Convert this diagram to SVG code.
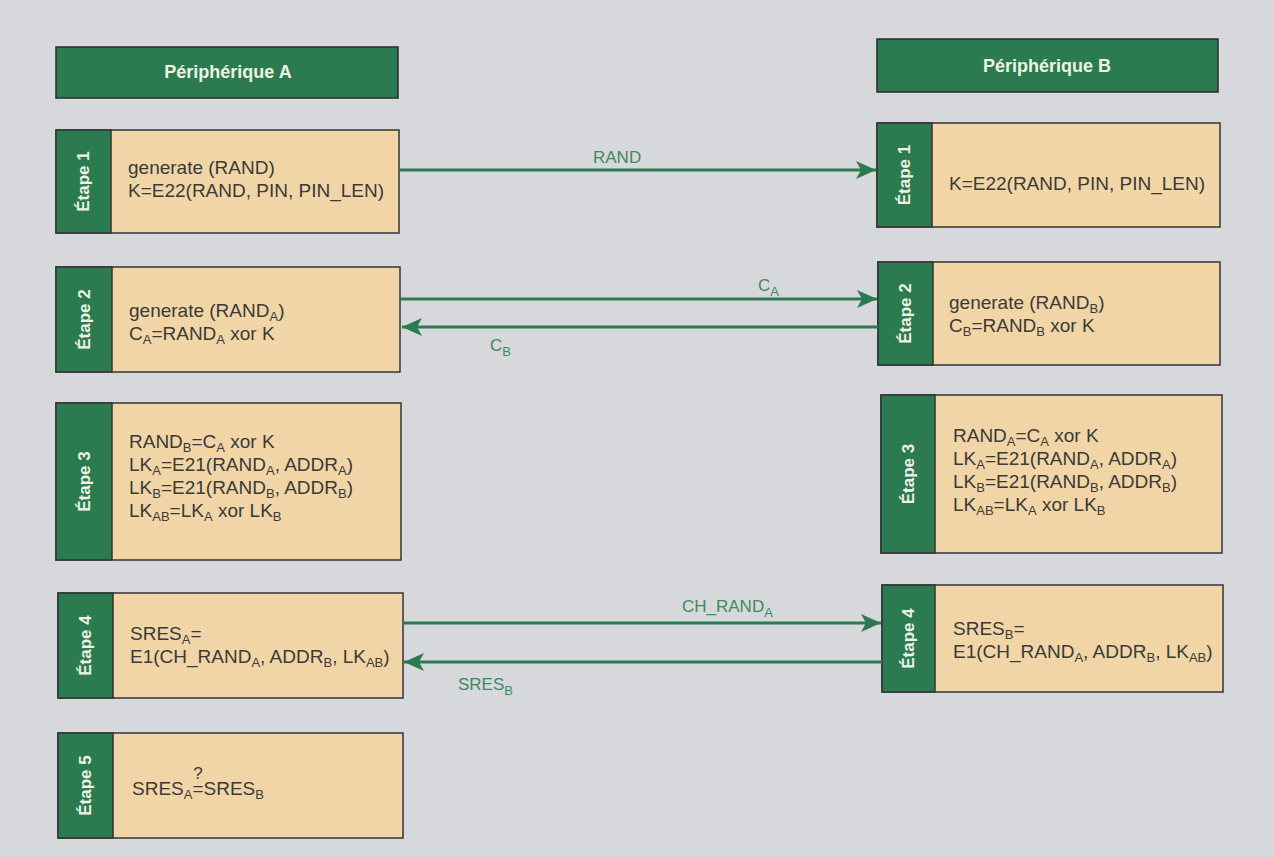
<svg xmlns="http://www.w3.org/2000/svg" width="1274" height="857" viewBox="0 0 1274 857">
  <defs>
    <style>
      .bg { fill: #d7d8dc; }
      .head { fill: #2c7a50; stroke: #2a2a2a; stroke-width: 1.5; }
      .head-t { font-family: "Liberation Sans", Arial, sans-serif; font-weight: bold; font-size: 18px; fill: #eef3e6; text-anchor: middle; }
      .body { fill: #f1d5a6; stroke: #333333; stroke-width: 1.5; }
      .tab { fill: #2c7a50; stroke: #333333; stroke-width: 1.5; }
      .tab-t { font-family: "Liberation Sans", Arial, sans-serif; font-weight: bold; font-size: 17px; fill: #eef3e6; text-anchor: middle; }
      .txt { font-family: "Liberation Sans", Arial, sans-serif; font-size: 19px; fill: #3a3a38; }
      .sub { font-size: 13px; }
      .wire { stroke: #2c7a50; stroke-width: 3; fill: none; marker-end: url(#head); }
      .lbl { font-family: "Liberation Sans", Arial, sans-serif; font-size: 17px; fill: #3d8a5e; }
    </style>
    <marker id="head" viewBox="0 0 20 18" refX="20" refY="9" markerWidth="20" markerHeight="18" markerUnits="userSpaceOnUse" orient="auto">
      <path d="M0,0 L20,9 L0,18 L5,9 z" fill="#2c7a50"/>
    </marker>
  </defs>

  <rect class="bg" x="0" y="0" width="1274" height="857"/>

  <!-- column headers -->
  <g id="header-a">
    <rect class="head" x="56" y="47" width="342" height="51"/>
    <text class="head-t" x="228" y="78">Périphérique A</text>
  </g>
  <g id="header-b">
    <rect class="head" x="877" y="39" width="341" height="53"/>
    <text class="head-t" x="1047" y="72">Périphérique B</text>
  </g>

  <!-- device A steps -->
  <g id="a-step1">
    <rect class="body" x="56" y="130" width="343" height="103"/>
    <rect class="tab" x="56" y="130" width="55" height="103"/>
    <text class="tab-t" transform="translate(89,181.5) rotate(-90)">Étape 1</text>
    <text class="txt" x="128" y="174">generate (RAND)</text>
    <text class="txt" x="128" y="197">K=E22(RAND, PIN, PIN_LEN)</text>
  </g>
  <g id="a-step2">
    <rect class="body" x="56" y="267" width="344" height="105"/>
    <rect class="tab" x="56" y="267" width="56" height="105"/>
    <text class="tab-t" transform="translate(90,319.5) rotate(-90)">Étape 2</text>
    <text class="txt" x="129" y="317">generate (RAND<tspan class="sub" dy="4">A</tspan><tspan dy="-4">)</tspan></text>
    <text class="txt" x="129" y="340">C<tspan class="sub" dy="4">A</tspan><tspan dy="-4">=RAND</tspan><tspan class="sub" dy="4">A</tspan><tspan dy="-4"> xor K</tspan></text>
  </g>
  <g id="a-step3">
    <rect class="body" x="56" y="403" width="345" height="157"/>
    <rect class="tab" x="56" y="403" width="56" height="157"/>
    <text class="tab-t" transform="translate(90,481.5) rotate(-90)">Étape 3</text>
    <text class="txt" x="129" y="448">RAND<tspan class="sub" dy="4">B</tspan><tspan dy="-4">=C</tspan><tspan class="sub" dy="4">A</tspan><tspan dy="-4"> xor K</tspan></text>
    <text class="txt" x="129" y="471">LK<tspan class="sub" dy="4">A</tspan><tspan dy="-4">=E21(RAND</tspan><tspan class="sub" dy="4">A</tspan><tspan dy="-4">, ADDR</tspan><tspan class="sub" dy="4">A</tspan><tspan dy="-4">)</tspan></text>
    <text class="txt" x="129" y="494">LK<tspan class="sub" dy="4">B</tspan><tspan dy="-4">=E21(RAND</tspan><tspan class="sub" dy="4">B</tspan><tspan dy="-4">, ADDR</tspan><tspan class="sub" dy="4">B</tspan><tspan dy="-4">)</tspan></text>
    <text class="txt" x="129" y="517">LK<tspan class="sub" dy="4">AB</tspan><tspan dy="-4">=LK</tspan><tspan class="sub" dy="4">A</tspan><tspan dy="-4"> xor LK</tspan><tspan class="sub" dy="4">B</tspan></text>
  </g>
  <g id="a-step4">
    <rect class="body" x="58" y="593" width="345" height="105"/>
    <rect class="tab" x="58" y="593" width="55" height="105"/>
    <text class="tab-t" transform="translate(91,645.5) rotate(-90)">Étape 4</text>
    <text class="txt" x="130" y="640">SRES<tspan class="sub" dy="4">A</tspan><tspan dy="-4">=</tspan></text>
    <text class="txt" x="130" y="663">E1(CH_RAND<tspan class="sub" dy="4">A</tspan><tspan dy="-4">, ADDR</tspan><tspan class="sub" dy="4">B</tspan><tspan dy="-4">, LK</tspan><tspan class="sub" dy="4">AB</tspan><tspan dy="-4">)</tspan></text>
  </g>
  <g id="a-step5">
    <rect class="body" x="58" y="733" width="345" height="105"/>
    <rect class="tab" x="58" y="733" width="55" height="105"/>
    <text class="tab-t" transform="translate(91,785.5) rotate(-90)">Étape 5</text>
    <text class="txt" x="198" y="779" text-anchor="middle" style="font-size:17px">?</text>
    <text class="txt" x="132" y="795">SRES<tspan class="sub" dy="4">A</tspan><tspan dy="-4">=SRES</tspan><tspan class="sub" dy="4">B</tspan></text>
  </g>

  <!-- device B steps -->
  <g id="b-step1">
    <rect class="body" x="877" y="123" width="343" height="104"/>
    <rect class="tab" x="877" y="123" width="55" height="104"/>
    <text class="tab-t" transform="translate(910,175) rotate(-90)">Étape 1</text>
    <text class="txt" x="949" y="190">K=E22(RAND, PIN, PIN_LEN)</text>
  </g>
  <g id="b-step2">
    <rect class="body" x="878" y="262" width="342" height="103"/>
    <rect class="tab" x="878" y="262" width="55" height="103"/>
    <text class="tab-t" transform="translate(911,313.5) rotate(-90)">Étape 2</text>
    <text class="txt" x="949" y="309">generate (RAND<tspan class="sub" dy="4">B</tspan><tspan dy="-4">)</tspan></text>
    <text class="txt" x="949" y="332">C<tspan class="sub" dy="4">B</tspan><tspan dy="-4">=RAND</tspan><tspan class="sub" dy="4">B</tspan><tspan dy="-4"> xor K</tspan></text>
  </g>
  <g id="b-step3">
    <rect class="body" x="881" y="395" width="341" height="158"/>
    <rect class="tab" x="881" y="395" width="54" height="158"/>
    <text class="tab-t" transform="translate(914,474) rotate(-90)">Étape 3</text>
    <text class="txt" x="953" y="442">RAND<tspan class="sub" dy="4">A</tspan><tspan dy="-4">=C</tspan><tspan class="sub" dy="4">A</tspan><tspan dy="-4"> xor K</tspan></text>
    <text class="txt" x="953" y="465">LK<tspan class="sub" dy="4">A</tspan><tspan dy="-4">=E21(RAND</tspan><tspan class="sub" dy="4">A</tspan><tspan dy="-4">, ADDR</tspan><tspan class="sub" dy="4">A</tspan><tspan dy="-4">)</tspan></text>
    <text class="txt" x="953" y="488">LK<tspan class="sub" dy="4">B</tspan><tspan dy="-4">=E21(RAND</tspan><tspan class="sub" dy="4">B</tspan><tspan dy="-4">, ADDR</tspan><tspan class="sub" dy="4">B</tspan><tspan dy="-4">)</tspan></text>
    <text class="txt" x="953" y="511">LK<tspan class="sub" dy="4">AB</tspan><tspan dy="-4">=LK</tspan><tspan class="sub" dy="4">A</tspan><tspan dy="-4"> xor LK</tspan><tspan class="sub" dy="4">B</tspan></text>
  </g>
  <g id="b-step4">
    <rect class="body" x="882" y="585" width="341" height="107"/>
    <rect class="tab" x="882" y="585" width="53" height="107"/>
    <text class="tab-t" transform="translate(914,638.5) rotate(-90)">Étape 4</text>
    <text class="txt" x="953" y="635">SRES<tspan class="sub" dy="4">B</tspan><tspan dy="-4">=</tspan></text>
    <text class="txt" x="953" y="658">E1(CH_RAND<tspan class="sub" dy="4">A</tspan><tspan dy="-4">, ADDR</tspan><tspan class="sub" dy="4">B</tspan><tspan dy="-4">, LK</tspan><tspan class="sub" dy="4">AB</tspan><tspan dy="-4">)</tspan></text>
  </g>

  <!-- message exchanges -->
  <g id="connectors">
    <line class="wire" x1="400" y1="170" x2="876" y2="170"/>
    <text class="lbl" x="593" y="163">RAND</text>

    <line class="wire" x1="401" y1="299" x2="877" y2="299"/>
    <text class="lbl" x="758" y="291">C<tspan class="sub" dy="5">A</tspan></text>

    <line class="wire" x1="878" y1="327" x2="402" y2="327"/>
    <text class="lbl" x="490" y="351">C<tspan class="sub" dy="5">B</tspan></text>

    <line class="wire" x1="403" y1="623" x2="881" y2="623"/>
    <text class="lbl" x="682" y="612">CH_RAND<tspan class="sub" dy="5">A</tspan></text>

    <line class="wire" x1="882" y1="662" x2="404" y2="662"/>
    <text class="lbl" x="458" y="690">SRES<tspan class="sub" dy="5">B</tspan></text>
  </g>
</svg>
